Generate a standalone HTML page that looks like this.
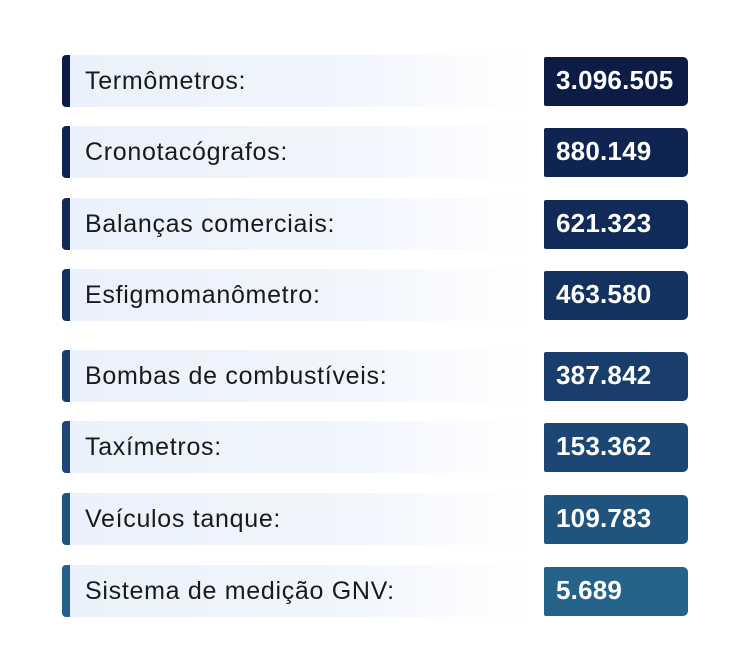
<!DOCTYPE html>
<html><head><meta charset="utf-8"><style>
body{margin:0;width:750px;height:672px;background:#fff;font-family:"Liberation Sans",sans-serif;position:relative;overflow:hidden}
.row{position:absolute;left:62px;width:626px;height:52px}
.lab{position:absolute;left:0;top:0;width:470px;height:52px;background:linear-gradient(90deg,#eaf1fc 0%,#f1f5fd 60%,#fff 100%);border-radius:4px 0 0 4px}
.bar{position:absolute;left:0;top:0;width:8px;height:52px;border-radius:4px 0 0 4px}
.lt{position:absolute;left:23px;top:0;line-height:52px;font-size:25px;letter-spacing:0.7px;color:#1a1a1a;white-space:nowrap}
.val{position:absolute;left:482px;top:2px;width:144px;height:49px;border-radius:2px 5px 5px 2px;color:#fff;font-weight:bold;font-size:26px;letter-spacing:0.2px;line-height:47px;padding-left:12px;box-sizing:border-box}
</style></head><body>
<div id="c"></div>
<script>
const labels=["Termômetros:","Cronotacógrafos:","Balanças comerciais:","Esfigmomanômetro:","Bombas de combustíveis:","Taxímetros:","Veículos tanque:","Sistema de medição GNV:"];
const values=["3.096.505","880.149","621.323","463.580","387.842","153.362","109.783","5.689"];
const tops=[55,126,198,269,350,421,493,565];
const cols=["#0c1c47","#0f2450","#112a57","#14325f","#193e6c","#1c4774","#20537e","#256289"];
const c=document.getElementById('c');
labels.forEach((l,i)=>{
 const r=document.createElement('div');r.className='row';r.style.top=tops[i]+'px';
 
 
 r.innerHTML='<div class="lab"><div class="bar" style="background:'+cols[i]+'"></div><div class="lt">'+l+'</div></div><div class="val" style="background:'+cols[i]+'">'+values[i]+'</div>';
 const lab=r.querySelector('.lt');
 
 
 const v=r.querySelector('.val');
 
 
 c.appendChild(r);
});
</script>
</body></html>
